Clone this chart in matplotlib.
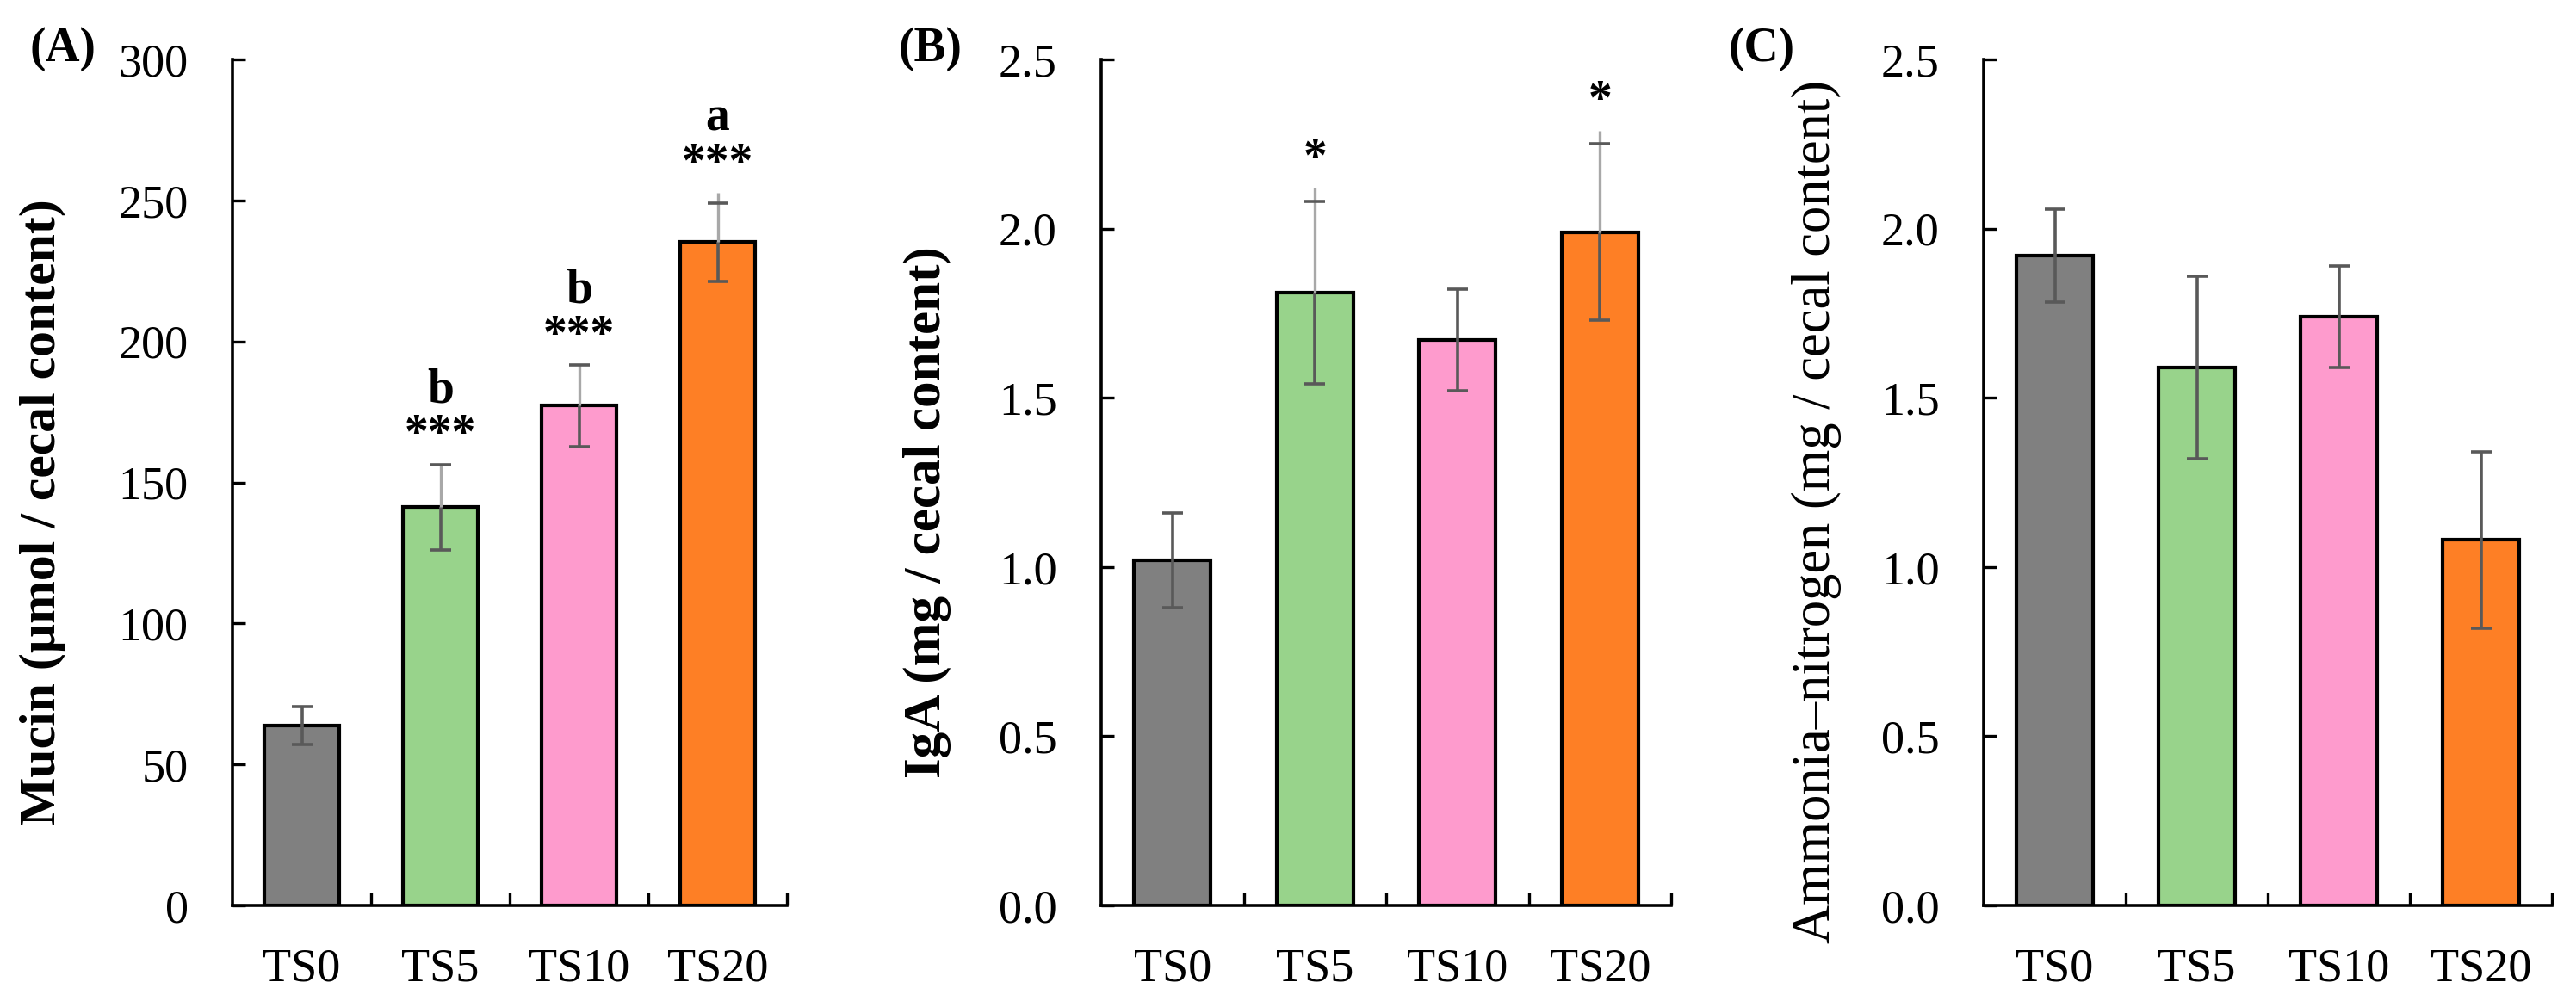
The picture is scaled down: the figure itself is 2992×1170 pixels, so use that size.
import numpy as np
import matplotlib
matplotlib.use("Agg")
import matplotlib.pyplot as plt

plt.rcParams['font.family'] = ['Liberation Serif', 'DejaVu Serif']

groups = ["TS0", "TS5", "TS10", "TS20"]
bar_colors = ["#808080", "#98d38b", "#fe9bcd", "#fe7f25"]

# panel A: mucin
mucin = [63.7, 141.2, 177.2, 235.2]
mucin_err = [6.7, 15.2, 14.4, 13.8]
mucin_light = [np.nan, 156.4, 191.6, 252.7]
mucin_letters = ["", "b", "b", "a"]
mucin_stars = ["", "***", "***", "***"]

# panel B: IgA
iga = [1.02, 1.81, 1.67, 1.99]
iga_err = [0.14, 0.27, 0.15, 0.26]
iga_light = [np.nan, 2.12, np.nan, 2.29]
iga_letters = ["", "", "", ""]
iga_stars = ["", "*", "", "*"]

# panel C: ammonia-nitrogen
nh3 = [1.92, 1.59, 1.74, 1.08]
nh3_err = [0.137, 0.27, 0.15, 0.26]
nh3_light = [np.nan, np.nan, np.nan, np.nan]

W, H = 2992, 1170
fig = plt.figure(figsize=(W / 100, H / 100), dpi=100)

dark = "#595959"
light = "#a8a8a8"
tick_fs = 39


def panel(left, width, vals, errs, light_top, ymax, ystep, yfmt, ylabel,
          ybold, label_x, label_fs, tag, tag_x, letters=None, stars=None):
    ax = fig.add_axes([left / W, 1 - 1052 / H, width / W, 983 / H])
    x = np.arange(len(groups))
    ax.bar(x, vals, width=0.54, color=bar_colors, edgecolor="black",
           linewidth=3.0, zorder=2)
    for i in range(len(x)):
        v, e, lt = vals[i], errs[i], light_top[i]
        if np.isnan(lt):
            ax.errorbar(x[i], v, yerr=e, fmt="none", ecolor=dark,
                        elinewidth=2.6, capsize=8.5, capthick=2.6, zorder=3)
        else:
            ax.plot([x[i], x[i]], [v - e, v], color=dark, lw=2.6, zorder=3,
                    solid_capstyle="butt")
            ax.plot([x[i], x[i]], [v, lt], color=light, lw=2.4, zorder=3,
                    solid_capstyle="butt")
            ax.errorbar(x[i], v, yerr=e, fmt="none", ecolor=dark,
                        elinewidth=0, capsize=8.5, capthick=2.6, zorder=4)
        top = max(v + e, 0 if np.isnan(lt) else lt)
        if stars and stars[i]:
            ax.annotate(stars[i], (x[i], top), xytext=(0, 14),
                        textcoords="offset points", ha="center",
                        va="baseline", fontsize=40, fontweight="bold")
        if letters and letters[i]:
            ax.annotate(letters[i], (x[i], top), xytext=(0, 52),
                        textcoords="offset points", ha="center",
                        va="baseline", fontsize=40, fontweight="bold")

    ax.set_xlim(-0.5, len(groups) - 0.5)
    ax.set_ylim(0, ymax)
    ax.set_yticks(np.arange(0, ymax + ystep / 2, ystep))
    ax.set_yticklabels([yfmt.format(t) for t in np.arange(0, ymax + ystep / 2, ystep)])
    ax.set_xticks(np.arange(0.5, len(groups), 1.0))
    ax.set_xticklabels([])
    ax.set_xticks(x, minor=True)
    ax.set_xticklabels(groups, minor=True)
    ax.tick_params(axis="x", which="major", direction="in", length=11, width=2.4)
    ax.tick_params(axis="x", which="minor", length=0, pad=35, labelsize=tick_fs)
    ax.tick_params(axis="y", direction="in", length=11, width=2.4, pad=37,
                   labelsize=tick_fs)
    for s in ["top", "right"]:
        ax.spines[s].set_visible(False)
    for s in ["left", "bottom"]:
        ax.spines[s].set_linewidth(2.6)
    ax.set_ylabel(ylabel, fontsize=label_fs,
                  fontweight="bold" if ybold else "normal")
    ax.yaxis.set_label_coords(label_x, 0.465)
    fig.text(tag_x / W, 1 - 57 / H, tag, fontsize=40, fontweight="bold",
             ha="center", va="center")
    return ax


panel(270, 644, mucin, mucin_err, mucin_light, 300, 50, "{:.0f}",
      "Mucin (µmol / cecal content)", True, -0.30, 43, "(A)", 73,
      letters=mucin_letters, stars=mucin_stars)
panel(1279, 662, iga, iga_err, iga_light, 2.5, 0.5, "{:.1f}",
      "IgA (mg / cecal content)", True, -0.263, 44, "(B)", 1081,
      letters=iga_letters, stars=iga_stars)
panel(2304, 660, nh3, nh3_err, nh3_light, 2.5, 0.5, "{:.1f}",
      "Ammonia–nitrogen (mg / cecal content)", False, -0.25, 45, "(C)", 2046)

fig.savefig("out.png", dpi=100, facecolor="white")
